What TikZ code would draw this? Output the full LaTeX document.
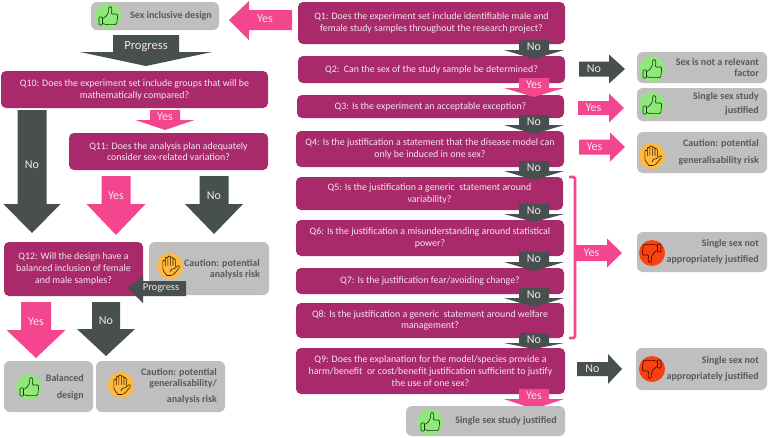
\documentclass[tikz,border=0pt]{standalone}
\usepackage{fontspec}
\setmainfont{Carlito}
\definecolor{qcol}{HTML}{A82A6B}
\definecolor{pinkc}{HTML}{F4468F}
\definecolor{darkc}{HTML}{474F4F}
\definecolor{greyc}{HTML}{BFBFBF}
\definecolor{gtext}{HTML}{555A5A}
\definecolor{qtext}{HTML}{F6E4EE}
\definecolor{greenc}{HTML}{93E67C}
\definecolor{orangec}{HTML}{FFBA3E}
\definecolor{redc}{HTML}{F8420F}
\tikzset{
  qtxt/.style={text=qtext,font=\fontsize{9.9}{11.8}\selectfont,align=center,inner sep=0pt},
  gtxt/.style={text=gtext,font=\bfseries\fontsize{10}{11.2}\selectfont,align=right,inner sep=0pt},
  atxt/.style={text=qtext,font=\fontsize{12}{14}\selectfont,inner sep=0pt},
  iconline/.style={line width=0.6pt,line join=round,line cap=round},
}
% rounded box with a centred label: name,x1,y1,x2,y2,fill,radius,style,text
\newcommand{\rbox}[9]{%
  \pgfmathsetmacro{\cxv}{(#2+#4)/2}\pgfmathsetmacro{\cyv}{(#3+#5)/2}%
  \pgfmathsetmacro{\wv}{#4-#2}\pgfmathsetmacro{\hv}{#5-#3}%
  \node[fill=#6,rounded corners=#7pt,minimum width=\wv pt,minimum height=\hv pt,inner sep=0pt,#8] (#1) at (\cxv,\cyv) {#9};}
\newcommand{\qb}[6]{\rbox{#1}{#2}{#3}{#4}{#5}{qcol}{5}{qtxt}{#6}}
\newcommand{\gb}[5]{\rbox{#1}{#2}{#3}{#4}{#5}{greyc}{6}{}{}}
% block arrow pointing down: name,colour,xc,halfshaft,halfhead,ytop,yneck,ytip,label
\newcommand{\darrow}[9]{%
  \fill[#2] ({#3-#4},#6) -- ({#3+#4},#6) -- ({#3+#4},#7) -- ({#3+#5},#7) -- (#3,#8) -- ({#3-#5},#7) -- ({#3-#4},#7) -- cycle;%
  \pgfmathsetmacro{\lyv}{#6+(#7-#6)*0.5+min(8,(#7-#6)*0.2)}%
  \node[atxt] (#1) at (#3,\lyv) {#9};}
% block arrow pointing right: name,colour,ymid,halfshaft,halfhead,xleft,xneck,xtip,label
\newcommand{\rarrow}[9]{%
  \fill[#2] (#6,{#3-#4}) -- (#7,{#3-#4}) -- (#7,{#3-#5}) -- (#8,#3) -- (#7,{#3+#5}) -- (#7,{#3+#4}) -- (#6,{#3+#4}) -- cycle;%
  \pgfmathsetmacro{\lxv}{(#6+#7)/2}%
  \node[atxt] (#1) at (\lxv,#3) {#9};}
\newcommand{\thumbshape}{%
  \draw[iconline,rounded corners=0.8pt] (-9,1) rectangle (-5.5,9);
  \draw[iconline,rounded corners=1.2pt] (-5.5,2.5) -- (-2.5,1) -- (0.5,-3.5) -- (0.8,-9.5) -- (3.4,-9.5) -- (4,-5) -- (3,-2) -- (9.6,-2) -- (9.6,1) -- (8.6,8.6) -- (-2,8.6) -- (-5.5,7.4);
}
\newcommand{\thumbup}[3]{%
  \fill[greenc] (#2,#3) circle (13) coordinate (#1);
  \begin{scope}[shift={(#2,#3)},draw=black!75!green]\thumbshape\end{scope}}
\newcommand{\thumbdown}[3]{%
  \fill[redc] (#2,#3) circle (13) coordinate (#1);
  \begin{scope}[shift={(#2,#3)},rotate=180,draw=black!70!red]\thumbshape\end{scope}}
\newcommand{\handicon}[3]{%
  \fill[orangec] (#2,#3) circle (13) coordinate (#1);
  \begin{scope}[shift={(#2,#3)},draw=black!80!orange]
    \draw[iconline,rounded corners=1.3pt] (-3,9.5) -- (-7.2,4) -- (-7.2,-6) -- (-4.7,-6) -- (-4.7,0);
    \draw[iconline,rounded corners=1.3pt] (-4.7,-5) -- (-4.7,-9) -- (-2.2,-9) -- (-2.2,-0.5);
    \draw[iconline,rounded corners=1.3pt] (-2.2,-8.5) -- (-2.2,-10.2) -- (0.4,-10.2) -- (0.4,-0.5);
    \draw[iconline,rounded corners=1.3pt] (0.4,-9) -- (3,-9) -- (3,-0.5);
    \draw[iconline,rounded corners=1.3pt] (3,-7.5) -- (5.3,-7.5) -- (5.3,2.2) -- (8.5,-1) -- (10,1) -- (4,8) -- (2,9.5) -- (-3,9.5);
    \draw[iconline,rounded corners=1pt] (5.3,2.2) -- (1,3.5) -- (0,6);
  \end{scope}}
\begin{document}
\begin{tikzpicture}[x=1pt,y=-1pt]
\useasboundingbox (0,0) rectangle (768,437);
\fill[white] (0,0) rectangle (768,437);

% ---------- left column
\gb{bSID}{91}{2}{219}{30}
\thumbup{iSID}{108}{16}
\node[gtxt,anchor=center] (tSID) at (171,16) {Sex inclusive design};

\fill[pinkc] (229,20) -- (249,1) -- (249,10) -- (292,10) -- (292,30) -- (249,30) -- (249,40) -- cycle;
\node[atxt] (aY0) at (265,19) {Yes};

\fill[darkc] (113,35) -- (179,35) -- (179,52) -- (212,52) -- (146,66) -- (80,52) -- (113,52) -- cycle;
\node[atxt,font=\fontsize{12.5}{14}\selectfont] (aPr) at (146,47) {Progress};

\qb{q10}{1}{71}{268}{108}{Q10: Does the experiment set include groups that will be\\mathematically compared?}
\darrow{aY10}{pinkc}{165}{15}{29.5}{110}{120}{130}{Yes}
\darrow{aN10}{darkc}{32}{14.5}{28.5}{110}{204}{233}{No}
\qb{q11}{69}{133}{268}{170}{Q11: Does the analysis plan adequately\\consider sex-related variation?}
\darrow{aY11}{pinkc}{116}{14.5}{29.5}{176}{204}{235}{Yes}
\darrow{aN11}{darkc}{214}{14.5}{29}{176}{204}{234}{No}

\qb{q12}{4}{242}{143}{296}{Q12: Will the design have a\\balanced inclusion of female\\and male samples?}
\gb{bAR}{149}{242}{269}{295}
\handicon{iAR}{170}{266}
\node[gtxt,anchor=east] (tAR) at (260,269) {Caution: potential\\analysis risk};

\fill[darkc] (128,288) -- (143,276) -- (143,281) -- (186,281) -- (186,296) -- (143,296) -- (143,303) -- cycle;
\node[atxt,font=\fontsize{10.5}{12}\selectfont] (aPr2) at (161,288) {Progress};

\darrow{aY12}{pinkc}{36}{15}{29.5}{302}{330}{358}{Yes}
\darrow{aN12}{darkc}{106}{14}{29}{302}{329}{356}{No}

\gb{bBD}{4}{361}{93}{412}
\thumbup{iBD}{29}{387}
\node[gtxt,anchor=east,font=\bfseries\fontsize{10}{17}\selectfont] (tBD) at (84,387.5) {Balanced\\design};
\gb{bCG}{96}{361}{225}{412}
\handicon{iCG}{121}{385}
\node[gtxt,anchor=east] (tCG) at (217,378.5) {Caution: potential\\generalisability/};
\node[gtxt,anchor=east] (tCG2) at (217,400) {analysis risk};

% ---------- right column
\qb{q1}{298}{2}{565}{44}{Q1: Does the experiment set include identifiable male and\\female study samples throughout the research project?}
\qb{q2}{298}{56}{565}{83}{Q2:\ \ Can the sex of the study sample be determined?}
\qb{q3}{297}{95}{564}{118}{Q3: Is the experiment an acceptable exception?}
\qb{q4}{296}{131}{564}{167}{Q4: Is the justification a statement that the disease model can\\only be induced in one sex?}
\qb{q5}{296}{177}{563}{210}{Q5: Is the justification a generic\ \ statement around\\variability?}
\qb{q6}{296}{220}{564}{256}{Q6: Is the justification a misunderstanding around statistical\\power?}
\qb{q7}{296}{268}{564}{294}{Q7: Is the justification fear/avoiding change?}
\qb{q8}{296}{303}{564}{338}{Q8: Is the justification a generic\ \ statement around welfare\\management?}
\qb{q9}{296}{348}{565}{394}{Q9: Does the explanation for the model/species provide a\\harm/benefit\ \ or cost/benefit justification sufficient to justify\\the use of one sex?}

\darrow{aN1}{darkc}{534}{15}{30}{40}{50}{59}{No}
\darrow{aY2}{pinkc}{534}{15}{30}{78}{88}{97}{Yes}
\darrow{aN3}{darkc}{534}{15}{30}{115}{125}{134}{No}
\darrow{aN4}{darkc}{534}{15}{30}{161}{171}{180}{No}
\darrow{aN5}{darkc}{534}{15}{30}{204}{214}{222}{No}
\darrow{aN6}{darkc}{534}{15}{30}{252}{262}{271}{No}
\darrow{aN7}{darkc}{534}{15}{30}{288}{298}{307}{No}
\darrow{aN8}{darkc}{534}{15}{30}{333}{343}{349}{No}
\darrow{aY9}{pinkc}{534}{15}{30}{389}{399}{409}{Yes}

% bracket
\draw[pinkc,line width=2.6pt,rounded corners=1.5pt] (569,177) -- (575,177) -- (575,338) -- (569,338);

% right-hand arrows
\rarrow{aR1}{darkc}{69}{7.5}{14.5}{579}{609}{625}{No}
\rarrow{aR2}{pinkc}{108}{7}{14.5}{578}{609}{624}{Yes}
\rarrow{aR3}{pinkc}{147}{7.5}{14.5}{579}{610}{625}{Yes}
\rarrow{aR4}{pinkc}{253}{8}{14.5}{576}{607}{622}{Yes}
\rarrow{aR5}{darkc}{369}{7}{15}{577}{608}{622}{No}

% right-hand outcomes
\gb{b1}{637}{52}{767}{83}
\thumbup{i1}{652}{69}
\node[gtxt,anchor=east] (t1) at (759,67.5) {Sex is not a relevant\\factor};
\gb{b2}{637}{88}{767}{121}
\thumbup{i2}{652}{105}
\node[gtxt,anchor=east,font=\bfseries\fontsize{10}{14}\selectfont] (t2) at (759,104) {Single sex study\\justified};
\gb{b3}{637}{132}{767}{173}
\handicon{i3}{652}{156}
\node[gtxt,anchor=east,font=\bfseries\fontsize{10}{17}\selectfont] (t3) at (759,152.5) {Caution: potential\ \\generalisability risk};
\gb{b4}{637}{232}{767}{272}
\thumbdown{i4}{652}{253}
\node[gtxt,anchor=east,font=\bfseries\fontsize{10}{16.5}\selectfont] (t4) at (759,252) {Single sex not\\appropriately justified};
\gb{b5}{636}{348}{767}{390}
\thumbdown{i5}{652}{369}
\node[gtxt,anchor=east,font=\bfseries\fontsize{10}{16.5}\selectfont] (t5) at (759,369) {Single sex not\\appropriately justified};
\gb{b6}{406}{406}{565}{436}
\thumbup{i6}{430}{422}
\node[gtxt,anchor=center] (t6) at (506,421) {Single sex study justified};
\end{tikzpicture}
\end{document}
